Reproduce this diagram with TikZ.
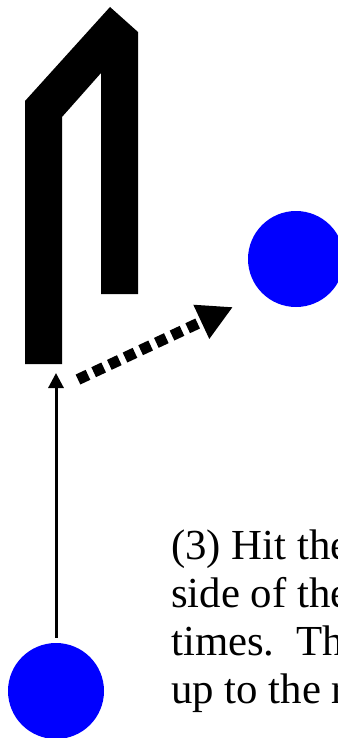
\documentclass[tikz,border=0pt]{standalone}
\usepackage{fontspec}
\setmainfont{Liberation Serif}
\usetikzlibrary{arrows.meta}

\begin{document}
\begin{tikzpicture}[x=1pt,y=-1pt,
    ball/.style={circle,fill=blue,inner sep=0pt,minimum size=96pt},
    thinarrow/.style={-{Triangle[length=15pt,width=15pt]},line width=3pt},
    dotarrow/.style={-{Triangle[length=35pt,width=35pt]},line width=11pt,
      dash pattern=on 11pt off 6.3pt}]
  \useasboundingbox (0,0) rectangle (337,738);

  % Gebogene Bande.
  \fill (25,364) -- (25,101) -- (110,7) -- (138,32) -- (138,294)
    -- (101,294) -- (101,73) -- (62,117) -- (62,364) -- cycle;

  \node[ball] (ballA) at (296,259) {};
  \node[ball] (ballB) at (56,691) {};

  \coordinate (tipA) at (56,373);
  \coordinate (dotStart) at (78,379.5);
  \coordinate (dotTip) at (233,307);

  \draw[thinarrow,shorten <=5pt] (ballB) -- (tipA);
  \draw[dotarrow] (dotStart) -- (dotTip);

  \node[anchor=base west,align=left,inner sep=0pt,
    font=\fontsize{42.8}{48}\selectfont] (hint) at (171,703)
    {(3) Hit the\\side of the\\times.\ \ Th\\up to the r};
\end{tikzpicture}
\end{document}
